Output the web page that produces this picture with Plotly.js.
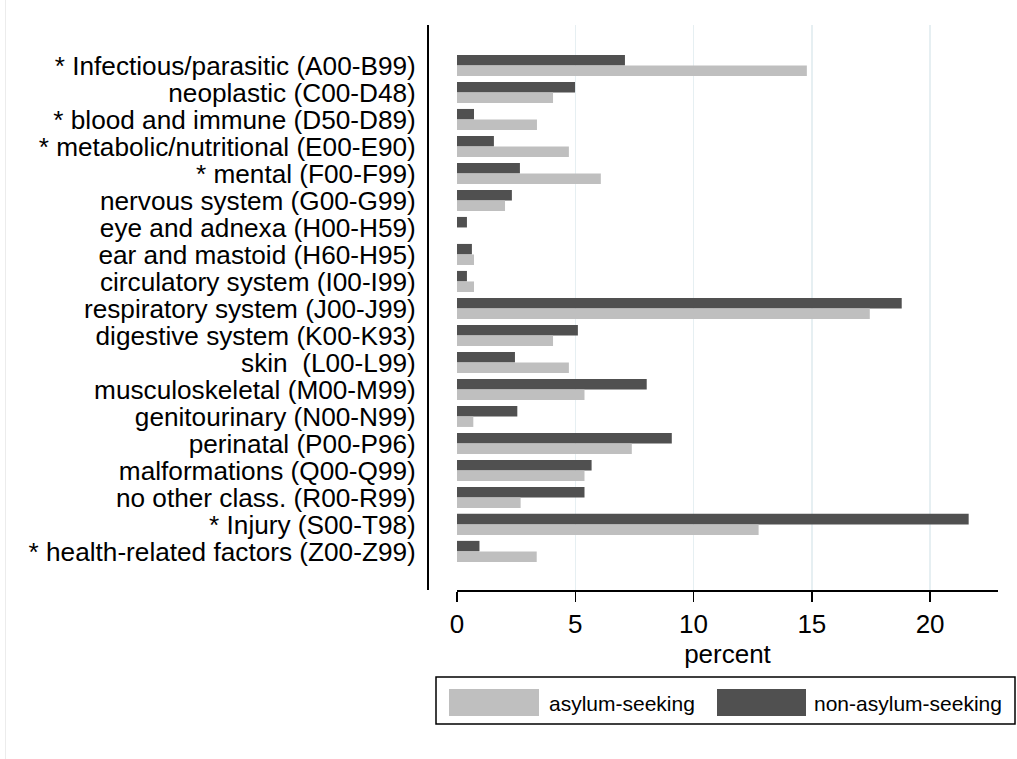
<!DOCTYPE html>
<html>
<head>
<meta charset="utf-8">
<script src="https://cdn.plot.ly/plotly-3.0.1.min.js"></script>
<style>
  html, body { margin: 0; padding: 0; background: #ffffff; }
  #chart { width: 1017px; height: 759px; }
</style>
</head>
<body>
<div id="chart"></div>
<script>
// ICD-10 chapters, listed top to bottom
const categories = [
  "* Infectious/parasitic (A00-B99)",
  "neoplastic (C00-D48)",
  "* blood and immune (D50-D89)",
  "* metabolic/nutritional (E00-E90)",
  "* mental (F00-F99)",
  "nervous system (G00-G99)",
  "eye and adnexa (H00-H59)",
  "ear and mastoid (H60-H95)",
  "circulatory system (I00-I99)",
  "respiratory system (J00-J99)",
  "digestive system (K00-K93)",
  "skin \u00a0(L00-L99)",
  "musculoskeletal (M00-M99)",
  "genitourinary (N00-N99)",
  "perinatal (P00-P96)",
  "malformations (Q00-Q99)",
  "no other class. (R00-R99)",
  "* Injury (S00-T98)",
  "* health-related factors (Z00-Z99)"
];

// Share of diagnoses (percent) per group
const nonAsylumSeeking = [7.10, 4.99, 0.72, 1.56, 2.66, 2.32, 0.42, 0.63, 0.42, 18.80,
                          5.11, 2.45, 8.02, 2.55, 9.08, 5.69, 5.39, 21.63, 0.95];
const asylumSeeking    = [14.79, 4.06, 3.38, 4.73, 6.08, 2.03, 0.00, 0.72, 0.72, 17.45,
                          4.06, 4.73, 5.39, 0.69, 7.39, 5.39, 2.69, 12.75, 3.37];

const xTicks = [0, 5, 10, 15, 20];
const seriesNames = ["asylum-seeking", "non-asylum-seeking"];

const DARK = "#505050";
const LIGHT = "#bfbfbf";
const FONT = "Liberation Sans, Arial, Helvetica, sans-serif";

// Page geometry (pixels)
const W = 1017, H = 759;
const M = { l: 0, r: 19, t: 25, b: 169 };
const plotW = W - M.l - M.r;
const plotH = H - M.t - M.b;
const px = x => (x - M.l) / plotW;           // page x -> paper x
const py = y => (H - M.b - y) / plotH;       // page y -> paper y

const traces = [
  {
    type: "bar", orientation: "h",
    name: seriesNames[1],
    y: categories, x: nonAsylumSeeking,
    marker: { color: DARK, line: { width: 0 } },
    hoverinfo: "skip"
  },
  {
    type: "bar", orientation: "h",
    name: seriesNames[0],
    y: categories, x: asylumSeeking,
    marker: { color: LIGHT, line: { width: 0 } },
    hoverinfo: "skip"
  }
];

// Legend box drawn as shapes + text
const shapes = [
  { type: "rect", xref: "paper", yref: "paper",
    x0: px(436), x1: px(1015), y0: py(677), y1: py(724),
    line: { color: "#000000", width: 1.5 }, fillcolor: "#ffffff" },
  { type: "rect", xref: "paper", yref: "paper",
    x0: px(449), x1: px(539), y0: py(689), y1: py(716),
    line: { width: 0 }, fillcolor: LIGHT },
  { type: "rect", xref: "paper", yref: "paper",
    x0: px(717), x1: px(806), y0: py(689), y1: py(716),
    line: { width: 0 }, fillcolor: DARK },
  // faint outer frame on the left edge
  { type: "line", xref: "paper", yref: "paper",
    x0: px(5.5), x1: px(5.5), y0: py(0), y1: py(759),
    line: { color: "#ececec", width: 1 } }
];

const annotations = [
  { xref: "paper", yref: "paper", x: px(547), y: py(703),
    xanchor: "left", yanchor: "middle", showarrow: false,
    text: seriesNames[0], font: { family: FONT, size: 21, color: "#000000" } },
  { xref: "paper", yref: "paper", x: px(812), y: py(703),
    xanchor: "left", yanchor: "middle", showarrow: false,
    text: seriesNames[1], font: { family: FONT, size: 21, color: "#000000" } }
];

const layout = {
  width: W, height: H,
  margin: M,
  paper_bgcolor: "#ffffff",
  plot_bgcolor: "rgba(0,0,0,0)",
  barmode: "group",
  bargap: 0.22,
  bargroupgap: 0,
  showlegend: false,
  font: { family: FONT, color: "#000000" },
  xaxis: {
    domain: [px(457), 1],
    range: [0, 22.87],
    tickvals: xTicks,
    ticktext: xTicks.map(String),
    ticks: "outside", ticklen: 10, tickwidth: 1.5, tickcolor: "#000000",
    tickfont: { family: FONT, size: 26, color: "#000000" },
    showline: true, linecolor: "#000000", linewidth: 1.5,
    showgrid: true, gridcolor: "#e6eff2", gridwidth: 1.5,
    zeroline: false,
    title: { text: "percent", font: { family: FONT, size: 26, color: "#000000" }, standoff: 2 },
    automargin: false,
    fixedrange: true
  },
  yaxis: {
    type: "category",
    categoryorder: "array",
    categoryarray: categories,
    tickmode: "array",
    tickvals: categories,
    ticktext: categories,
    range: [19.43, -1.5],
    anchor: "free",
    position: px(427),
    showline: true, linecolor: "#000000", linewidth: 1.5,
    showgrid: false, zeroline: false,
    ticks: "",
    ticklabelstandoff: 6,
    tickfont: { family: FONT, size: 26.2, color: "#000000" },
    automargin: false,
    fixedrange: true
  },
  shapes: shapes,
  annotations: annotations
};

Plotly.newPlot("chart", traces, layout, { displayModeBar: false, staticPlot: true });
</script>
</body>
</html>
